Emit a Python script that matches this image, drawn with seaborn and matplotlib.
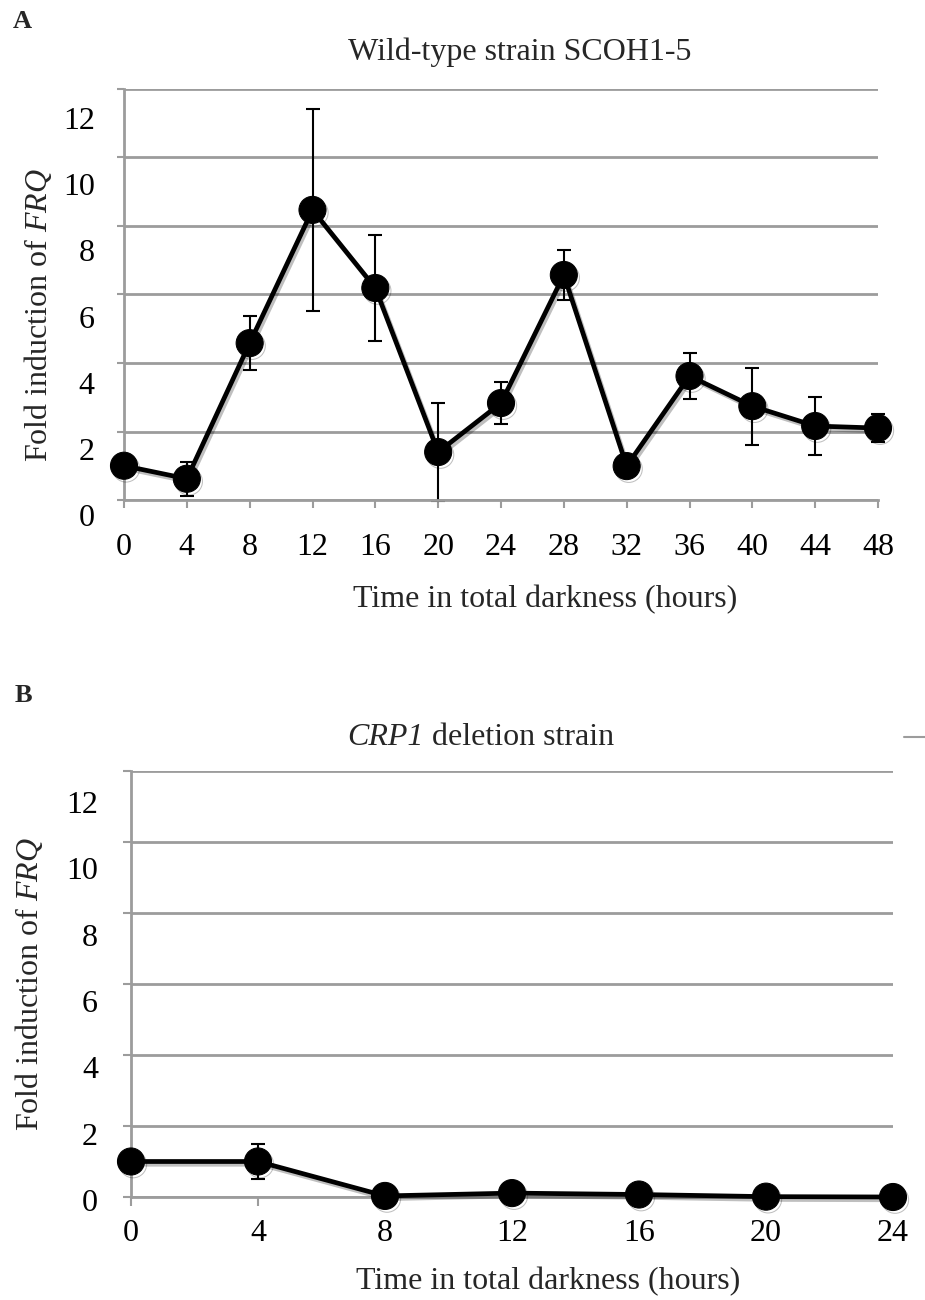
import matplotlib
matplotlib.use("Agg")
import matplotlib.pyplot as plt
import matplotlib.transforms as mtrans
import matplotlib.patheffects as pe
from matplotlib.lines import Line2D
import pandas as pd
import seaborn as sns

# ---------------- data ----------------
hours_a = [0, 4, 8, 12, 16, 20, 24, 28, 32, 36, 40, 44, 48]
fold_a = [1.0, 0.62, 4.58, 8.47, 6.19, 1.40, 2.83, 6.57, 0.99, 3.62, 2.74, 2.16, 2.10]
err_a = [0.0, 0.50, 0.79, 2.94, 1.55, 1.43, 0.62, 0.73, 0.0, 0.67, 1.12, 0.84, 0.40]

hours_b = [0, 4, 8, 12, 16, 20, 24]
fold_b = [1.0, 1.0, 0.03, 0.11, 0.07, 0.01, 0.0]
err_b = [0.0, 0.50, 0.0, 0.0, 0.0, 0.0, 0.0]

y_ticks = [0, 2, 4, 6, 8, 10, 12]
x_ticks_a = [0, 4, 8, 12, 16, 20, 24, 28, 32, 36, 40, 44, 48]
x_ticks_b = [0, 4, 8, 12, 16, 20, 24]

title_a = "Wild-type strain SCOH1-5"
title_b_gene = "CRP1"
title_b_rest = "deletion strain"
y_label = r"Fold induction of $\mathit{FRQ}$"
x_label = "Time in total darkness (hours)"

# ---------------- style ----------------
sns.set_theme(style="white")
plt.rcParams["font.family"] = ["Liberation Serif", "DejaVu Serif"]
plt.rcParams["mathtext.fontset"] = "custom"
plt.rcParams["mathtext.rm"] = "Liberation Serif"
plt.rcParams["mathtext.it"] = "Liberation Serif:italic"

W, H = 925, 1300
DPI = 100
fig = plt.figure(figsize=(W / DPI, H / DPI), dpi=DPI)
fig.patch.set_facecolor("white")

GRID = "#9c9c9c"
FS = 23


def px_rect(l, r, t, b):
    return [l / W, 1 - b / H, (r - l) / W, (b - t) / H]


def panel(rect, hours, fold, err, xticks, xmax, ytick_len, ytick_pad,
          xtick_len, xtick_pad, lab_a, lab_b):
    ax = fig.add_axes(rect)
    ax.set_facecolor("white")
    df = pd.DataFrame({"hours": hours, "fold": fold})
    ax.errorbar(hours, fold, yerr=err, fmt="none", ecolor="black",
                elinewidth=1.5, capsize=4.7, capthick=1.5, zorder=2,
                clip_on=False)
    sns.lineplot(data=df, x="hours", y="fold", ax=ax, color="black",
                 linewidth=3.4, marker="o", markersize=19.5,
                 markeredgecolor="black", markerfacecolor="black",
                 zorder=3, clip_on=False)
    line = ax.lines[-1]
    line.set_path_effects([
        pe.SimpleLineShadow(offset=(1.5, -2.0), shadow_color="black", alpha=0.25),
        pe.Normal(),
    ])
    ax.set_xlim(0, xmax)
    ax.set_ylim(0, 12)
    ax.set_xticks(xticks)
    ax.set_xticklabels([str(t) for t in xticks])
    ax.set_yticks(y_ticks)
    ax.set_yticklabels([str(t) for t in y_ticks])
    ax.set_xlabel("")
    ax.set_ylabel("")
    ax.set_axisbelow(True)
    ax.yaxis.grid(True, color=GRID, linewidth=2.0)
    ax.xaxis.grid(False)
    for s in ["top", "right"]:
        ax.spines[s].set_visible(False)
    for s in ["left", "bottom"]:
        ax.spines[s].set_visible(True)
        ax.spines[s].set_color(GRID)
        ax.spines[s].set_linewidth(2.0)
    ax.tick_params(axis="y", left=True, length=ytick_len, width=1.5,
                   color=GRID, pad=ytick_pad, labelsize=FS, labelcolor="black")
    ax.tick_params(axis="x", bottom=True, length=xtick_len, width=1.5,
                   color=GRID, pad=xtick_pad, labelsize=FS, labelcolor="black")
    # the reference draws the y tick labels slightly below their gridlines
    for lbl, v in zip(ax.get_yticklabels(), y_ticks):
        off = mtrans.ScaledTranslation(0, -(lab_a + lab_b * v) / DPI,
                                       fig.dpi_scale_trans)
        lbl.set_transform(lbl.get_transform() + off)
    return ax


# Panel A
axA = panel(px_rect(124, 878, 89, 500), hours_a, fold_a, err_a, x_ticks_a, 48,
            ytick_len=5, ytick_pad=16, xtick_len=5.8, xtick_pad=18,
            lab_a=15, lab_b=1.17)
# Panel B
axB = panel(px_rect(131, 893, 771, 1197), hours_b, fold_b, err_b, x_ticks_b, 24,
            ytick_len=5.8, ytick_pad=18, xtick_len=6.5, xtick_pad=9,
            lab_a=3, lab_b=2.33)

# texts
fig.text(22 / W, 1 - 22 / H, "A", fontsize=19, fontweight="bold",
         ha="center", va="center")
fig.text(23 / W, 1 - 695 / H, "B", fontsize=19, fontweight="bold",
         ha="center", va="center")

fig.text(520 / W, 1 - 52 / H, title_a, fontsize=FS, ha="center", va="center")
fig.text(424 / W, 1 - 737 / H, title_b_gene, fontsize=FS, style="italic",
         ha="right", va="center")
fig.text(432 / W, 1 - 737 / H, title_b_rest, fontsize=FS,
         ha="left", va="center")

fig.text(38 / W, 1 - 315 / H, y_label, fontsize=FS, rotation=90,
         ha="center", va="center")
fig.text(29 / W, 1 - 984 / H, y_label, fontsize=FS, rotation=90,
         ha="center", va="center")

fig.text(545 / W, 1 - 600 / H, x_label, fontsize=FS, ha="center", va="center")
fig.text(548 / W, 1 - 1282 / H, x_label, fontsize=FS, ha="center", va="center")

# stray legend stub at the right of panel B's title
fig.add_artist(Line2D([904 / W, 1.0], [1 - 737 / H, 1 - 737 / H],
                      transform=fig.transFigure, color=GRID, linewidth=1.5))

fig.savefig("out.png", dpi=DPI, facecolor="white")
